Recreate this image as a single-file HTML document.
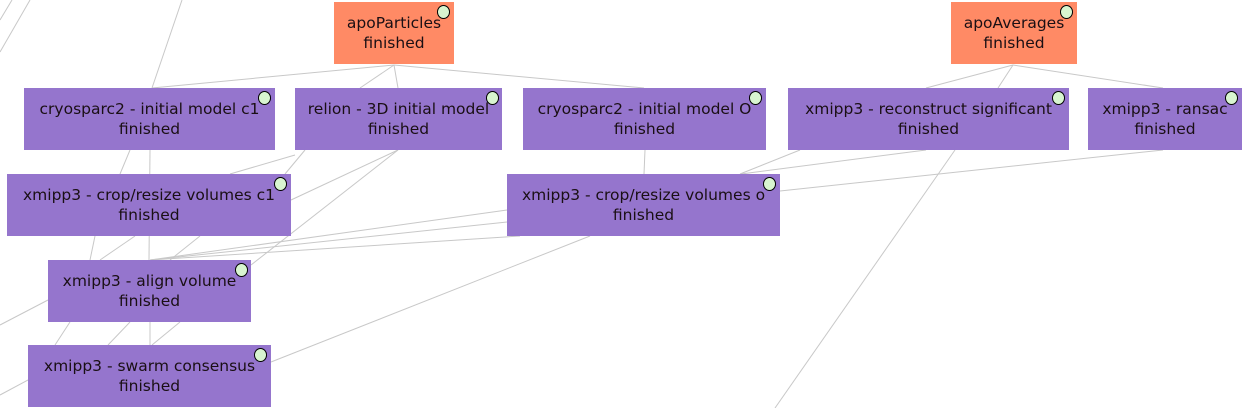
<!DOCTYPE html>
<html><head><meta charset="utf-8"><style>
body{margin:0;width:1242px;height:408px;background:#fff;overflow:hidden;position:relative;font-family:"DejaVu Sans","Liberation Sans",sans-serif}
.n{position:absolute;background:#9575cd;color:#1a0f14;font-size:15.5px;line-height:20px;text-align:center;display:flex;flex-direction:column;justify-content:center;height:62px;white-space:nowrap;letter-spacing:0}
.o{background:#ff8a65}
.c{position:absolute;width:13px;height:14px;border:1.5px solid #000;border-radius:50%;background:#d8f5d0;box-sizing:border-box}
svg{position:absolute;left:0;top:0}
</style></head><body>
<svg width="1242" height="408" stroke="#c8c8c8" stroke-width="1" fill="none">
<line x1="0" y1="52" x2="30" y2="0"/><line x1="0" y1="20" x2="12" y2="0"/>
<line x1="152" y1="88" x2="182" y2="0"/>
<line x1="394" y1="65" x2="152" y2="88"/><line x1="394" y1="65" x2="644" y2="88"/>
<line x1="394" y1="65" x2="398" y2="88"/><line x1="394" y1="65" x2="360" y2="88"/>
<line x1="1013" y1="65" x2="926" y2="88"/><line x1="1013" y1="65" x2="1163" y2="88"/>
<line x1="1013" y1="65" x2="998" y2="88"/>
<line x1="955" y1="150" x2="775" y2="408"/>
<line x1="926" y1="150" x2="741" y2="174"/><line x1="1163" y1="150" x2="780" y2="191"/>
<line x1="800" y1="150" x2="740" y2="174"/>
<line x1="645" y1="150" x2="644" y2="174"/>
<line x1="150" y1="150" x2="149" y2="260"/><line x1="130" y1="150" x2="120" y2="174"/>
<line x1="295" y1="155" x2="230" y2="174"/><line x1="305" y1="150" x2="285" y2="174"/>
<line x1="398" y1="150" x2="291" y2="200"/><line x1="398" y1="150" x2="251" y2="265"/>
<line x1="507" y1="210" x2="150" y2="260"/><line x1="507" y1="222" x2="150" y2="260"/>
<line x1="590" y1="236" x2="271" y2="362"/><line x1="520" y1="236" x2="150" y2="260"/>
<line x1="135" y1="236" x2="100" y2="260"/><line x1="95" y1="236" x2="90" y2="260"/>
<line x1="200" y1="236" x2="170" y2="260"/>
<line x1="150" y1="322" x2="150" y2="345"/><line x1="48" y1="300" x2="0" y2="325"/>
<line x1="70" y1="322" x2="55" y2="345"/><line x1="130" y1="322" x2="108" y2="345"/><line x1="180" y1="322" x2="152" y2="345"/>
<line x1="28" y1="380" x2="0" y2="395"/>
</svg>
<div class="n o" style="left:334px;top:2px;width:120px">apoParticles<span>finished</span></div><div class="c" style="left:437px;top:5px"></div>
<div class="n o" style="left:951px;top:2px;width:126px">apoAverages<span>finished</span></div><div class="c" style="left:1060px;top:5px"></div>
<div class="n" style="left:24px;top:88px;width:251px">cryosparc2 - initial model c1<span>finished</span></div><div class="c" style="left:258px;top:91px"></div>
<div class="n" style="left:295px;top:88px;width:207px">relion - 3D initial model<span>finished</span></div><div class="c" style="left:486px;top:91px"></div>
<div class="n" style="left:523px;top:88px;width:243px">cryosparc2 - initial model O<span>finished</span></div><div class="c" style="left:749px;top:91px"></div>
<div class="n" style="left:788px;top:88px;width:281px">xmipp3 - reconstruct significant<span>finished</span></div><div class="c" style="left:1052px;top:91px"></div>
<div class="n" style="left:1088px;top:88px;width:154px">xmipp3 - ransac<span>finished</span></div><div class="c" style="left:1225px;top:91px"></div>
<div class="n" style="left:7px;top:174px;width:284px">xmipp3 - crop/resize volumes c1<span>finished</span></div><div class="c" style="left:274px;top:177px"></div>
<div class="n" style="left:507px;top:174px;width:273px">xmipp3 - crop/resize volumes o<span>finished</span></div><div class="c" style="left:763px;top:177px"></div>
<div class="n" style="left:48px;top:260px;width:203px">xmipp3 - align volume<span>finished</span></div><div class="c" style="left:235px;top:263px"></div>
<div class="n" style="left:28px;top:345px;width:243px">xmipp3 - swarm consensus<span>finished</span></div><div class="c" style="left:254px;top:348px"></div>
</body></html>
